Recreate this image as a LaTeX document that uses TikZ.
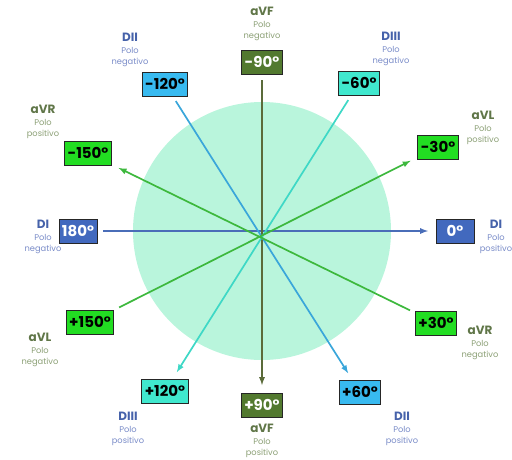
\documentclass[tikz,border=0pt]{standalone}
\usepackage{fontspec}
\setmainfont{Poppins}
\newcommand*{\boxfont}{\fontsize{15}{15}\selectfont\bfseries}
\newcommand*{\leadfont}{\fontsize{8.3}{11.5}\selectfont}
\newcommand*{\leadname}[1]{{\fontsize{12}{12}\selectfont\bfseries #1}}
\definecolor{ring}{RGB}{185,245,220}
\definecolor{DIbox}{RGB}{66,105,190}
\definecolor{DIline}{RGB}{74,109,184}
\definecolor{DIIbox}{RGB}{56,186,240}
\definecolor{DIIline}{RGB}{58,166,218}
\definecolor{DIIIbox}{RGB}{64,232,206}
\definecolor{DIIIline}{RGB}{62,216,198}
\definecolor{aVbox}{RGB}{34,221,34}
\definecolor{aVline}{RGB}{61,184,61}
\definecolor{aVFbox}{RGB}{82,121,47}
\definecolor{aVFline}{RGB}{91,107,58}
\definecolor{Dtitle}{RGB}{70,98,170}
\definecolor{Dsub}{RGB}{122,140,200}
\definecolor{Atitle}{RGB}{96,118,72}
\definecolor{Asub}{RGB}{140,160,118}
\usepackage{tikz}
\usetikzlibrary{arrows}
\usetikzlibrary{positioning}
\tikzstyle{base}=[x=1pt, y=-1pt, inner sep=0pt, outer sep=0pt, >=latex]
\tikzstyle{deg}=[draw=black!85, line width=0.9pt, minimum height=24pt, inner xsep=3pt, font=\boxfont]
\tikzstyle{lead}=[align=center, font=\leadfont]
\tikzstyle{axis}=[line width=1.7pt, shorten <=6pt, shorten >=8pt]

\begin{document}
\begin{tikzpicture}[base]
    \useasboundingbox (0,0) rectangle (512,459);
    \fill [ring] (262,231) circle [radius=129pt];
    % boxes
    \node [deg, fill=DIbox, text=white] (d180) at (78,231) {180°};
    \node [deg, fill=DIbox, text=white, minimum width=38pt] (d0) at (455,231) {0°};
    \node [deg, fill=aVFbox, text=white] (neg90) at (262,62) {-90°};
    \node [deg, fill=aVFbox, text=white] (pos90) at (262,405) {+90°};
    \node [deg, fill=DIIbox] (neg120) at (165,84) {-120°};
    \node [deg, fill=DIIbox] (pos60) at (360,392) {+60°};
    \node [deg, fill=DIIIbox] (neg60) at (359,83) {-60°};
    \node [deg, fill=DIIIbox] (pos120) at (165,391) {+120°};
    \node [deg, fill=aVbox] (neg30) at (438,147) {-30°};
    \node [deg, fill=aVbox] (pos150) at (90,322) {+150°};
    \node [deg, fill=aVbox] (neg150) at (88,153) {-150°};
    \node [deg, fill=aVbox] (pos30) at (436,323) {+30°};
    % axes
    \draw [axis, DIline, ->] (d180) -- (d0);
    \draw [axis, aVFline, ->] (neg90) -- (pos90);
    \draw [axis, DIIline, ->] (neg120) -- (pos60);
    \draw [axis, DIIIline, ->] (neg60) -- (pos120);
    \draw [axis, aVline, ->] (pos150) -- (neg30);
    \draw [axis, aVline, ->] (pos30) -- (neg150);
    % lead names
    \node [lead, Dsub] (DIIneg) at (130,50) {\textcolor{Dtitle}{\leadname{DII}}\\Polo\\negativo};
    \node [lead, Asub] (aVFneg) at (262,24) {\textcolor{Atitle}{\leadname{aVF}}\\Polo\\negativo};
    \node [lead, Dsub] (DIIIneg) at (391,49) {\textcolor{Dtitle}{\leadname{DIII}}\\Polo\\negativo};
    \node [lead, Asub] (aVRpos) at (43,122) {\textcolor{Atitle}{\leadname{aVR}}\\Polo\\positivo};
    \node [lead, Asub] (aVLpos) at (483,128) {\textcolor{Atitle}{\leadname{aVL}}\\Polo\\positivo};
    \node [lead, Dsub] (DIneg) at (43,237) {\textcolor{Dtitle}{\leadname{DI}}\\Polo\\negativo};
    \node [lead, Dsub] (DIpos) at (496,237) {\textcolor{Dtitle}{\leadname{DI}}\\Polo\\positivo};
    \node [lead, Asub] (aVLneg) at (40,350) {\textcolor{Atitle}{\leadname{aVL}}\\Polo\\negativo};
    \node [lead, Asub] (aVRneg) at (480,343) {\textcolor{Atitle}{\leadname{aVR}}\\Polo\\negativo};
    \node [lead, Dsub] (DIIIpos) at (128,429) {\textcolor{Dtitle}{\leadname{DIII}}\\Polo\\positivo};
    \node [lead, Asub] (aVFpos) at (262,441) {\textcolor{Atitle}{\leadname{aVF}}\\Polo\\positivo};
    \node [lead, Dsub] (DIIpos) at (402,429) {\textcolor{Dtitle}{\leadname{DII}}\\Polo\\positivo};
\end{tikzpicture}
\end{document}
